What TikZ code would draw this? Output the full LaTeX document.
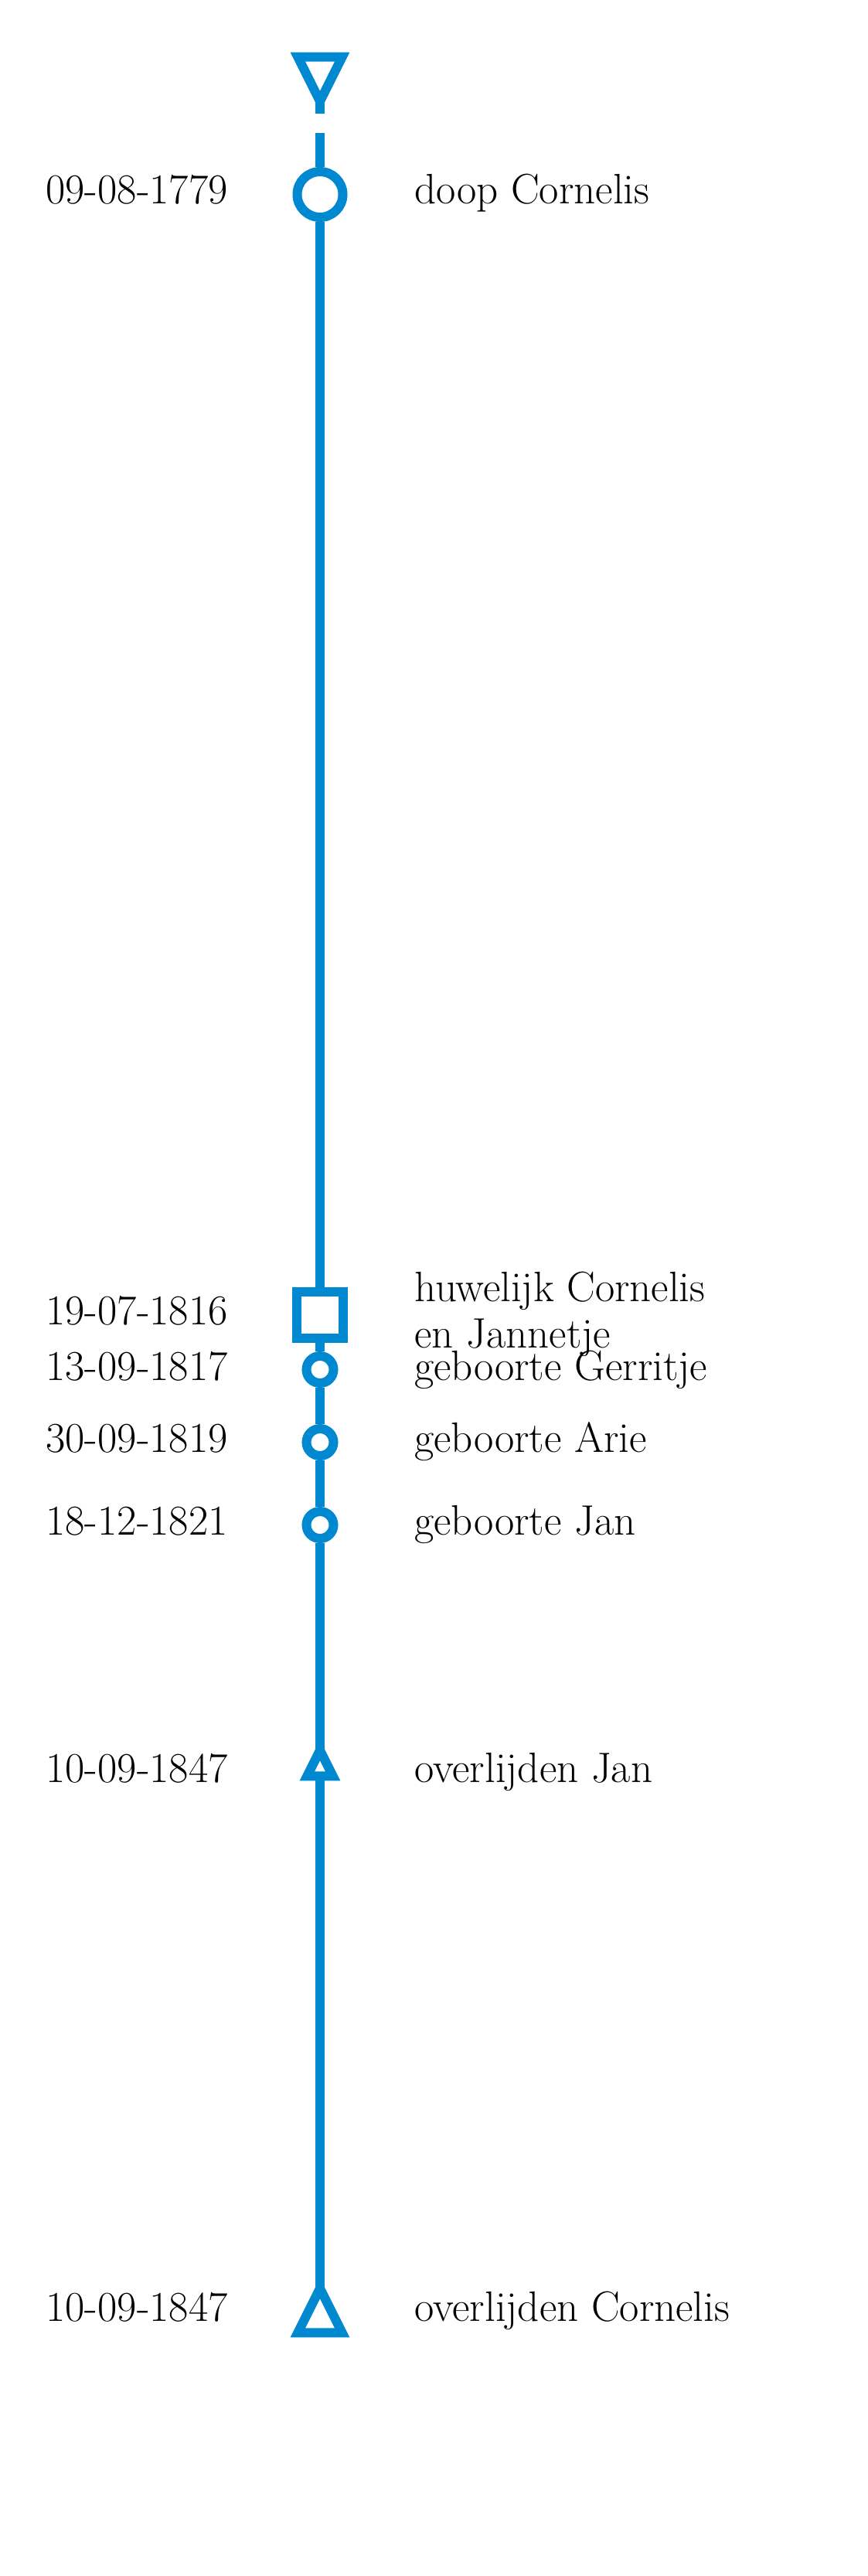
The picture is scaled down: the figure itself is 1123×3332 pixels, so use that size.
\documentclass[tikz,border=0pt]{standalone}
\usepackage{fontspec}
\usepackage{tikz}
\usetikzlibrary{shapes.geometric,positioning}
\definecolor{lijnblauw}{RGB}{0,137,208}

\begin{document}
\begin{tikzpicture}[
    x=0.5pt,
    y=-0.5pt,
    lijn/.style={
      draw=lijnblauw,
      line width=6pt
      },
    rondje/.style={
      lijn,
      circle,
      inner sep=0pt,
      minimum size=17.5pt
      },
    groot/.style={
      rondje,
      minimum size=29.5pt
      },
    vierkant/.style={
      lijn,
      rectangle,
      inner sep=0pt,
      minimum size=30pt
      },
    driehoek/.style={
      lijn,
      isosceles triangle,
      isosceles triangle apex angle=53.13,
      inner sep=0pt,
      outer sep=0pt,
      minimum width=#1,
      minimum height=#1
      },
    datum/.style={
      anchor=base east,
      inner sep=0pt,
      font=\fontsize{27.5}{30}\selectfont
      },
    tekst/.style={
      anchor=base west,
      inner sep=0pt,
      align=left,
      font=\fontsize{27.5}{30}\selectfont
      }
    ]
    \useasboundingbox (0,0) rectangle (1123,3332);

    % markers on the line
    \node[driehoek=28.7pt, shape border rotate=270, anchor=apex] (begin) at (414,131) {};
    \node[groot] (doop) at (414,251.5) {};
    \node[vierkant] (huw) at (414,1701) {};
    \foreach \y/\naam in {1771.5/gerritje,1865.5/arie,1972.5/jan}
      \node[rondje] (\naam) at (414,\y) {};
    \node[driehoek=16.7pt, shape border rotate=90, anchor=apex] (ovjan) at (414,2264) {};
    \node[driehoek=28.7pt, shape border rotate=90, anchor=apex] (ovcor) at (414,2960) {};
    \coordinate (stomp) at (414,147);
    \coordinate (verder) at (414,172);

    \draw[lijn] (begin.apex) -- (stomp);
    \draw[lijn] (verder) -- (doop) -- (huw) -- (gerritje) -- (arie) -- (jan) -- (ovjan.apex);
    \draw[lijn] (ovjan.lower side) -- (ovcor.apex);

    % dates left, events right
    \foreach \y/\d/\t [count=\i] in {
        263/09-08-1779/doop Cornelis,
        1785/13-09-1817/geboorte Gerritje,
        1878/30-09-1819/geboorte Arie,
        1985/18-12-1821/geboorte Jan,
        2305/10-09-1847/overlijden Jan,
        3002/10-09-1847/overlijden Cornelis}
    {
      \node[datum] (d\i) at (295,\y) {\d};
      \node[tekst] (t\i) at (536,\y) {\t};
    }
    \node[datum] (dhuw) at (295,1713) {19-07-1816};
    \node[tekst] (thuw) at (536,1743) {huwelijk Cornelis\\en Jannetje};
    % \draw[help lines] (0,0) grid[step=100] (1123,3332);
\end{tikzpicture}
\end{document}
